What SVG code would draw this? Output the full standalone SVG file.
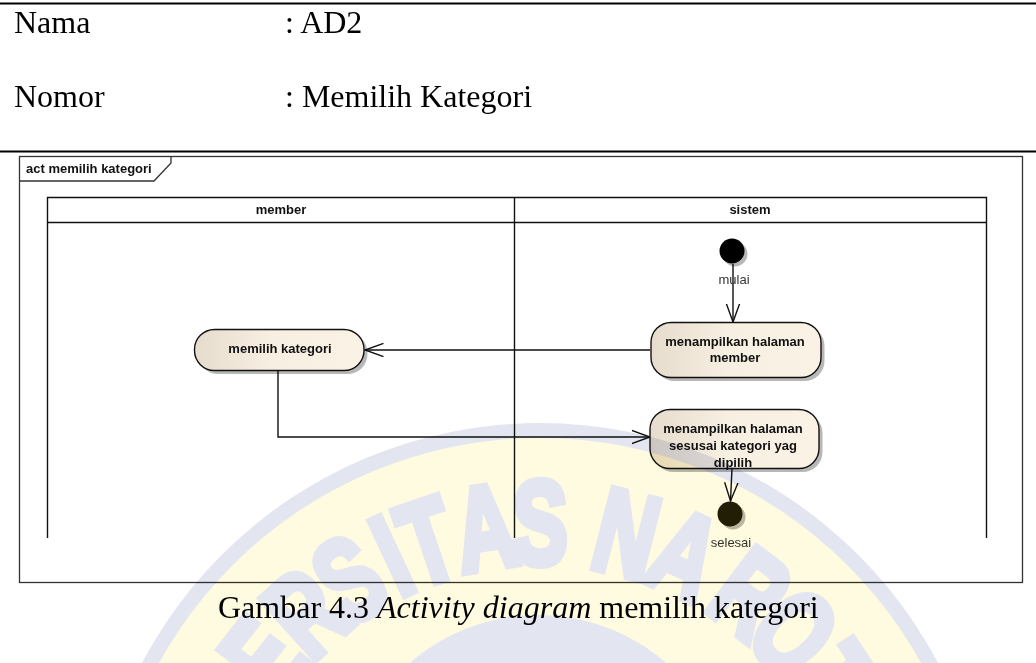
<svg xmlns="http://www.w3.org/2000/svg" width="1036" height="663" viewBox="0 0 1036 663">
<style>
.d{font-family:"Liberation Serif","Times New Roman",serif;font-size:32px;fill:#000}
.b{font-family:"Liberation Sans",Arial,sans-serif;font-size:13px;font-weight:bold;fill:#111;text-anchor:middle}
.l{font-family:"Liberation Sans",Arial,sans-serif;font-size:13px;fill:#333;text-anchor:middle}
.ln{fill:none;stroke:#111;stroke-width:1.4}
.act{fill:url(#g);stroke:#111;stroke-width:1.4}
.sh{fill:#000;opacity:.28}
.wb{fill:#e3e6f1}
.wm{font-family:"Liberation Sans",Arial,sans-serif;font-weight:bold;font-size:118px;fill:#e3e6f1;stroke:#e3e6f1;stroke-width:8;text-anchor:middle}
</style>
<defs>
<linearGradient id="g"><stop offset="0" stop-color="#e6dccd"/><stop offset=".45" stop-color="#f7efe2"/><stop offset="1" stop-color="#faf2e5"/></linearGradient>
<marker id="a" markerUnits="userSpaceOnUse" markerWidth="22" markerHeight="18" refX="18.500" refY="9" orient="auto"><path d="M0 2.300L18.500 9L0 15.700" fill="none" stroke="#111" stroke-width="1.4"/></marker>
</defs>
<rect width="1036" height="663" fill="#fff"/>
<g id="header">
<path d="M0 3.500H1036M0 151.500H1036" stroke="#000" stroke-width="2.200"/>
<text class="d" x="14" y="32.500">Nama</text><text class="d" x="285" y="32.500">: AD2</text>
<text class="d" x="14" y="107">Nomor</text><text class="d" x="285" y="107">: Memilih Kategori</text>
<text class="d" x="218" y="618">Gambar 4.3 <tspan font-style="italic">Activity diagram</tspan> memilih kategori</text>
</g>
<g id="frame">
<rect x="19.500" y="156.500" width="1003" height="426" fill="none" stroke="#333" stroke-width="1.300"/>
<path d="M19.500 181H154L171 163V156.500" fill="none" stroke="#333" stroke-width="1.300"/>
<text class="b" x="26" y="173" style="text-anchor:start">act memilih kategori</text>
</g>
<g id="swimlanes">
<path d="M47.500 538V197.500H986.500V538M514.500 197.500V538M47.500 222.500H986.500" class="ln"/>
<text class="b" x="281" y="214">member</text><text class="b" x="750" y="214">sistem</text>
</g>
<g id="connectors">
<path class="ln" d="M733 264V322" marker-end="url(#a)"/>
<path class="ln" d="M650 350H365" marker-end="url(#a)"/>
<path class="ln" d="M278 371V437H650" marker-end="url(#a)"/>
<path class="ln" d="M732 468L730.500 501" marker-end="url(#a)"/>
</g>
<g id="start"><circle class="sh" cx="735" cy="254" r="12.500"/><circle cx="732" cy="251" r="12.500" fill="#000"/><text class="l" x="734" y="284">mulai</text></g>
<g id="pilih"><rect class="sh" x="198" y="333" width="169.500" height="41" rx="20"/><rect class="act" x="194.500" y="329.500" width="169.500" height="41" rx="20"/><text class="b" x="280" y="353">memilih kategori</text></g>
<g id="hal-member"><rect class="sh" x="654.500" y="326" width="170" height="55" rx="20"/><rect class="act" x="651" y="322.500" width="170" height="55" rx="20"/><text class="b" x="735" y="346">menampilkan halaman</text><text class="b" x="735" y="362">member</text></g>
<g id="hal-kategori"><rect class="sh" x="653.500" y="413" width="169" height="59" rx="20"/><rect class="act" x="650" y="409.500" width="169" height="59" rx="20"/><text class="b" x="733" y="433">menampilkan halaman</text><text class="b" x="733" y="450">sesusai kategori yag</text><text class="b" x="733" y="467">dipilih</text></g>
<g id="end"><circle class="sh" cx="733" cy="517" r="12.500"/><circle cx="730" cy="514" r="12.500" fill="#221d05"/><text class="l" x="731" y="547">selesai</text></g>
<g id="watermark" style="mix-blend-mode:multiply">
<circle cx="540" cy="873" r="450" class="wb"/>
<circle cx="540" cy="873" r="435" fill="#fffbe0"/>
<circle cx="538" cy="810" r="195" class="wb"/>
<text class="wm" transform="rotate(-52 540 873) translate(540 564) scale(.7 1)">E</text>
<text class="wm" transform="rotate(-42 540 873) translate(540 564) scale(.7 1)">R</text>
<text class="wm" transform="rotate(-33 540 873) translate(540 564) scale(.7 1)">S</text>
<text class="wm" transform="rotate(-25 540 873) translate(540 564) scale(.7 1)">I</text>
<text class="wm" transform="rotate(-18.700 540 873) translate(540 564) scale(.7 1)">T</text>
<text class="wm" transform="rotate(-9 540 873) translate(540 564) scale(.7 1)">A</text>
<text class="wm" transform="rotate(0 540 873) translate(540 564) scale(.7 1)">S</text>
<text class="wm" transform="rotate(14.300 540 873) translate(540 564) scale(.7 1)">N</text>
<text class="wm" transform="rotate(24.500 540 873) translate(540 564) scale(.7 1)">A</text>
<text class="wm" transform="rotate(37 540 873) translate(540 564) scale(.7 1)">R</text>
<text class="wm" transform="rotate(46.500 540 873) translate(540 564) scale(.7 1)">O</text>
<text class="wm" transform="rotate(56.500 540 873) translate(540 564) scale(.7 1)">T</text>
</g>
</svg>
